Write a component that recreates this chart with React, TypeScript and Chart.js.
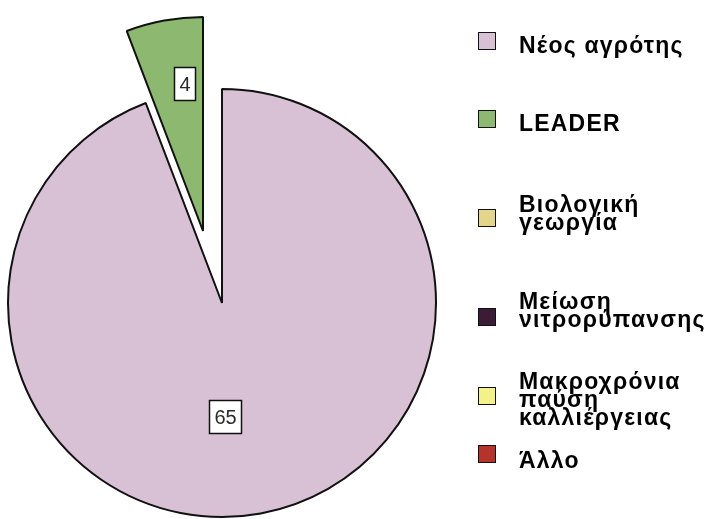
import React, { useEffect, useRef } from 'react';
import { Chart, registerables } from 'chart.js';

Chart.register(...registerables);

// ---- data ----
const categories = [
  'Νέος αγρότης',
  'LEADER',
  'Βιολογική\nγεωργία',
  'Μείωση\nνιτρορύπανσης',
  'Μακροχρόνια\nπαύση\nκαλλιέργειας',
  'Άλλο',
];
const values = [65, 4, 0, 0, 0, 0];
const colors = ['#d8c1d4', '#8cb870', '#e3d68c', '#3b1b36', '#f4f08a', '#b4332a'];
const explodedIndex = 1;

// ---- layout / style ----
const W = 707;
const H = 519;
const PIE_RADIUS = 214;
const PAD = { left: 0, right: 263, top: 87, bottom: 0 };
const EXPLODE = { x: -19, y: -72 };
const LABEL_FRAC = [0.54, 0.7, 0.6, 0.6, 0.6, 0.6];
const LABEL_NUDGE_X = [-18, 9, 0, 0, 0, 0];
const LEGEND_TEXT_TOP = [37, 115, 196, 293, 373, 452];
const LEGEND_BOX_TOP = [32, 110, 209, 308, 387, 445];
const FONT = '"Liberation Sans", Arial, Helvetica, sans-serif';

function labelPlugin(visible: (i: number) => boolean) {
  return {
    id: 'boxLabels',
    afterDatasetsDraw(chart: any) {
      const ctx = chart.ctx as CanvasRenderingContext2D;
      const meta = chart.getDatasetMeta(0);
      meta.data.forEach((arc: any, i: number) => {
        const v = values[i];
        if (!visible(i) || !v) return;
        const { x, y, startAngle, endAngle, outerRadius } = arc.getProps(
          ['x', 'y', 'startAngle', 'endAngle', 'outerRadius'],
          true
        );
        const mid = (startAngle + endAngle) / 2;
        const r = outerRadius * LABEL_FRAC[i];
        const cx = x + Math.cos(mid) * r + LABEL_NUDGE_X[i];
        const cy = y + Math.sin(mid) * r;
        ctx.save();
        ctx.font = `20px ${FONT}`;
        const text = String(v);
        const tw = ctx.measureText(text).width;
        const bw = Math.round(tw + 10);
        const bh = 33;
        const bx = Math.round(cx - bw / 2) + 0.5;
        const by = Math.round(cy - bh / 2) + 0.5;
        ctx.fillStyle = '#ffffff';
        ctx.fillRect(bx, by, bw, bh);
        ctx.strokeStyle = '#111111';
        ctx.lineWidth = 1.5;
        ctx.strokeRect(bx, by, bw, bh);
        ctx.fillStyle = '#2a2a2a';
        ctx.textAlign = 'center';
        ctx.textBaseline = 'middle';
        ctx.fillText(text, bx + bw / 2, by + bh / 2 + 1);
        ctx.restore();
      });
    },
  };
}

function makeChart(canvas: HTMLCanvasElement, visible: (i: number) => boolean) {
  return new Chart(canvas, {
    type: 'pie',
    data: {
      labels: categories,
      datasets: [
        {
          data: values,
          backgroundColor: colors.map((c, i) => (visible(i) ? c : 'rgba(0,0,0,0)')),
          borderColor: '#111111',
          borderWidth: values.map((_, i) => (visible(i) ? 2 : 0)),
          clip: false as any,
        } as any,
      ],
    },
    options: {
      responsive: false,
      devicePixelRatio: 1,
      animation: false,
      radius: PIE_RADIUS,
      layout: { padding: PAD },
      events: [],
      plugins: {
        legend: { display: false },
        tooltip: { enabled: false },
      },
    } as any,
    plugins: [labelPlugin(visible)],
  });
}

export default function App() {
  const mainRef = useRef<HTMLCanvasElement | null>(null);
  const explRef = useRef<HTMLCanvasElement | null>(null);

  useEffect(() => {
    const a = makeChart(mainRef.current!, (i) => i !== explodedIndex);
    const b = makeChart(explRef.current!, (i) => i === explodedIndex);
    return () => {
      a.destroy();
      b.destroy();
    };
  }, []);

  return (
    <div
      style={{
        position: 'absolute',
        left: 0,
        top: 0,
        width: W,
        height: H,
        overflow: 'hidden',
        background: '#ffffff',
      }}
    >
      <canvas
        ref={mainRef}
        width={W}
        height={H}
        style={{ position: 'absolute', left: 0, top: 0, width: W, height: H }}
      />
      <canvas
        ref={explRef}
        width={W}
        height={H}
        style={{ position: 'absolute', left: EXPLODE.x, top: EXPLODE.y, width: W, height: H }}
      />
      {categories.map((label, i) => (
        <React.Fragment key={i}>
          <div
            style={{
              position: 'absolute',
              left: 478,
              top: LEGEND_BOX_TOP[i],
              width: 16,
              height: 16,
              background: colors[i],
              border: '1.5px solid #111',
            }}
          />
          <div
            style={{
              position: 'absolute',
              left: 519,
              top: LEGEND_TEXT_TOP[i] - 1,
              fontFamily: FONT,
              fontWeight: 'bold',
              fontSize: 23,
              lineHeight: '18px',
              letterSpacing: '1.2px',
              color: '#000',
              whiteSpace: 'pre',
            }}
          >
            {label}
          </div>
        </React.Fragment>
      ))}
    </div>
  );
}
